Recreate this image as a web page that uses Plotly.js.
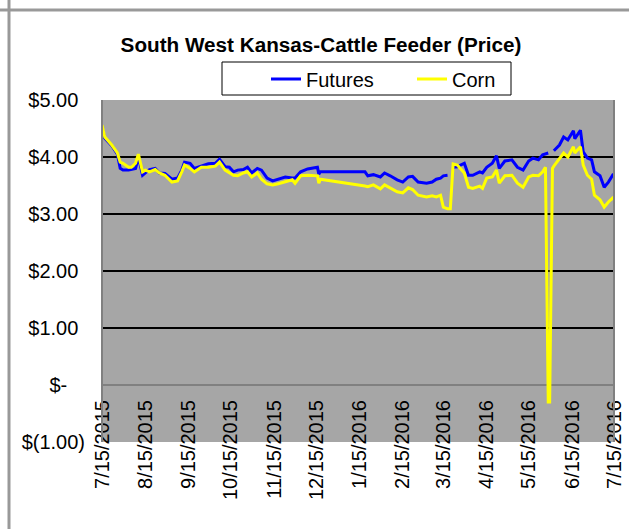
<!DOCTYPE html>
<html>
<head>
<meta charset="utf-8">
<script src="https://cdn.plot.ly/plotly-3.0.1.min.js"></script>
<style>
html,body{margin:0;padding:0;background:#fff;}
#chart{width:629px;height:529px;}
</style>
</head>
<body>
<div id="chart"></div>
<script>
const dates = [
 '2015-07-15','2015-07-17','2015-07-22','2015-07-26','2015-07-28','2015-07-30','2015-08-03','2015-08-05','2015-08-08','2015-08-10',
 '2015-08-13','2015-08-15','2015-08-18','2015-08-22','2015-08-25','2015-08-29','2015-09-03','2015-09-07','2015-09-10','2015-09-12',
 '2015-09-16','2015-09-19','2015-09-24','2015-09-29','2015-10-04','2015-10-07','2015-10-11','2015-10-14','2015-10-17','2015-10-20',
 '2015-10-24','2015-10-27','2015-10-30','2015-11-03','2015-11-06','2015-11-10','2015-11-14','2015-11-18','2015-11-23','2015-11-28',
 '2015-11-30','2015-12-04','2015-12-09','2015-12-16','2015-12-17','2015-12-18',
 '2016-01-19','2016-01-21','2016-01-25','2016-01-30','2016-02-02','2016-02-06','2016-02-11','2016-02-15','2016-02-19','2016-02-22','2016-02-26',
 '2016-03-03','2016-03-07','2016-03-10','2016-03-13','2016-03-15','2016-03-18','2016-03-20','2016-03-22','2016-03-25','2016-03-30',
 '2016-04-02','2016-04-05','2016-04-10','2016-04-12','2016-04-15','2016-04-19','2016-04-22','2016-04-24','2016-04-28',
 '2016-05-03','2016-05-07','2016-05-11','2016-05-15','2016-05-18','2016-05-22','2016-05-25','2016-05-27','2016-05-29','2016-05-30',
 '2016-06-01','2016-06-02','2016-06-06','2016-06-09','2016-06-12','2016-06-16','2016-06-17','2016-06-21','2016-06-23','2016-06-26','2016-06-29',
 '2016-07-01','2016-07-05','2016-07-08','2016-07-11','2016-07-14','2016-07-15'
];
const futures = [
 4.51,4.33,4.20,4.05,3.80,3.77,3.77,3.78,3.80,4.00,
 3.68,3.72,3.78,3.80,3.72,3.71,3.61,3.63,3.77,3.91,
 3.89,3.80,3.84,3.88,3.89,3.96,3.83,3.82,3.74,3.77,
 3.78,3.82,3.72,3.80,3.77,3.63,3.58,3.61,3.65,3.63,
 3.63,3.74,3.79,3.82,3.70,3.74,
 3.74,3.67,3.69,3.65,3.72,3.67,3.60,3.56,3.65,3.66,3.56,
 3.54,3.56,3.61,3.63,3.67,3.68,null,3.82,3.83,3.89,
 3.68,3.68,3.74,3.72,3.82,3.89,4.02,3.80,3.93,
 3.95,3.82,3.77,3.93,3.98,3.95,4.04,4.05,4.07,null,
 null,4.11,4.21,4.35,4.30,4.46,4.32,4.47,4.09,3.98,3.95,
 3.74,3.67,3.47,3.56,3.68,3.66
];
const corn = [
 4.56,4.35,4.21,4.07,3.91,3.89,3.82,3.82,3.89,4.05,
 3.74,3.77,3.74,3.78,3.72,3.68,3.56,3.58,3.74,3.86,
 3.80,3.74,3.82,3.82,3.84,3.91,3.77,3.72,3.68,3.67,
 3.72,3.74,3.65,3.72,3.61,3.53,3.51,3.53,3.56,3.60,
 3.54,3.67,3.68,3.67,3.54,3.61,
 3.49,3.48,3.51,3.44,3.51,3.46,3.39,3.37,3.46,3.43,3.33,
 3.30,3.32,3.30,3.33,3.12,3.09,3.09,3.88,3.86,3.72,
 3.47,3.45,3.49,3.45,3.63,3.65,3.77,3.54,3.67,
 3.68,3.54,3.47,3.65,3.68,3.67,3.74,3.82,-0.30,-0.30,
 3.80,3.84,3.98,4.07,4.00,4.18,4.07,4.18,3.86,3.68,3.61,
 3.33,3.25,3.12,3.21,3.28,3.26
];
const xTickVals = ['2015-07-15','2015-08-15','2015-09-15','2015-10-15','2015-11-15','2015-12-15',
 '2016-01-15','2016-02-15','2016-03-15','2016-04-15','2016-05-15','2016-06-15','2016-07-15'];
const xTickLabels = ['7/15/2015','8/15/2015','9/15/2015','10/15/2015','11/15/2015','12/15/2015',
 '1/15/2016','2/15/2016','3/15/2016','4/15/2016','5/15/2016','6/15/2016','7/15/2016'];
const yTickVals = [-1,0,1,2,3,4,5];
const yTickLabels = ['$(1.00)','$-','$1.00','$2.00','$3.00','$4.00','$5.00'];

const inv = s => '<span style="color:rgba(0,0,0,0)">' + s + '</span>';
const yTickText = yTickLabels.map((t, i) => {
  const v = yTickVals[i];
  if (v < 0) return t;
  if (v === 0) return t + inv('0)');
  return t + inv(')');
});

const FONT = 'Arial, "Liberation Sans", sans-serif';
const L = 102, R = 614, T = 100, B = 442, W = 629, H = 529;
const px = x => (x - L) / (R - L);
const py = y => (B - y) / (B - T);

const traces = [
  {x: dates, y: futures, name: 'Futures', type: 'scatter', mode: 'lines',
   line: {color: '#0000ff', width: 3}, connectgaps: false},
  {x: dates, y: corn, name: 'Corn', type: 'scatter', mode: 'lines',
   line: {color: '#ffff00', width: 3}, connectgaps: false}
];

const layout = {
  width: W, height: H,
  margin: {l: L, r: W - R, t: T, b: H - B, pad: 0},
  paper_bgcolor: '#ffffff',
  plot_bgcolor: '#a6a6a6',
  font: {family: FONT, size: 20, color: '#000'},
  title: {text: '<b>South West Kansas-Cattle Feeder (Price)</b>', font: {family: FONT, size: 20.7, color: '#000'},
          x: 321 / W, xanchor: 'center', y: 1 - 45 / H, yanchor: 'middle', xref: 'container', yref: 'container'},
  showlegend: true,
  legend: {orientation: 'h', x: px(266), xanchor: 'left', y: py(79), yanchor: 'middle',
           bgcolor: 'rgba(0,0,0,0)', borderwidth: 0,
           font: {family: FONT, size: 20, color: '#000'},
           entrywidth: 101, entrywidthmode: 'pixels'},
  xaxis: {type: 'date', range: ['2015-07-15', '2016-07-15'], anchor: 'free', position: 1/6,
          tickmode: 'array', tickvals: xTickVals, ticktext: xTickLabels, tickangle: -90,
          ticks: '', showgrid: false, showline: false, zeroline: false, ticklabelstandoff: 10,
          tickfont: {family: FONT, size: 20, color: '#000'}, fixedrange: true},
  yaxis: {range: [-1, 5], tickmode: 'array', tickvals: yTickVals, ticktext: yTickText,
          ticks: '', showgrid: true, gridcolor: '#000000', gridwidth: 2,
          zeroline: true, zerolinecolor: '#808080', zerolinewidth: 2,
          showline: false, ticklabelstandoff: 16,
          tickfont: {family: FONT, size: 20, color: '#000'}, fixedrange: true},
  shapes: [
    {type: 'line', xref: 'paper', yref: 'paper', x0: 0, x1: 0, y0: 0, y1: 1, line: {color: '#808080', width: 2}},
    {type: 'line', xref: 'paper', yref: 'paper', x0: 1, x1: 1, y0: 0, y1: 1, line: {color: '#808080', width: 2}},
    {type: 'line', xref: 'paper', yref: 'paper', x0: px(0), x1: px(W), y0: py(10), y1: py(10), line: {color: '#999999', width: 3}},
    {type: 'line', xref: 'paper', yref: 'paper', x0: px(9), x1: px(9), y0: py(H), y1: py(0), line: {color: '#999999', width: 3}},
    {type: 'rect', xref: 'paper', yref: 'paper', x0: px(222), x1: px(511), y0: py(95), y1: py(62),
     fillcolor: '#ffffff', line: {color: '#000000', width: 1}}
  ]
};

Plotly.newPlot('chart', traces, layout, {displayModeBar: false, staticPlot: true});
</script>
</body>
</html>
